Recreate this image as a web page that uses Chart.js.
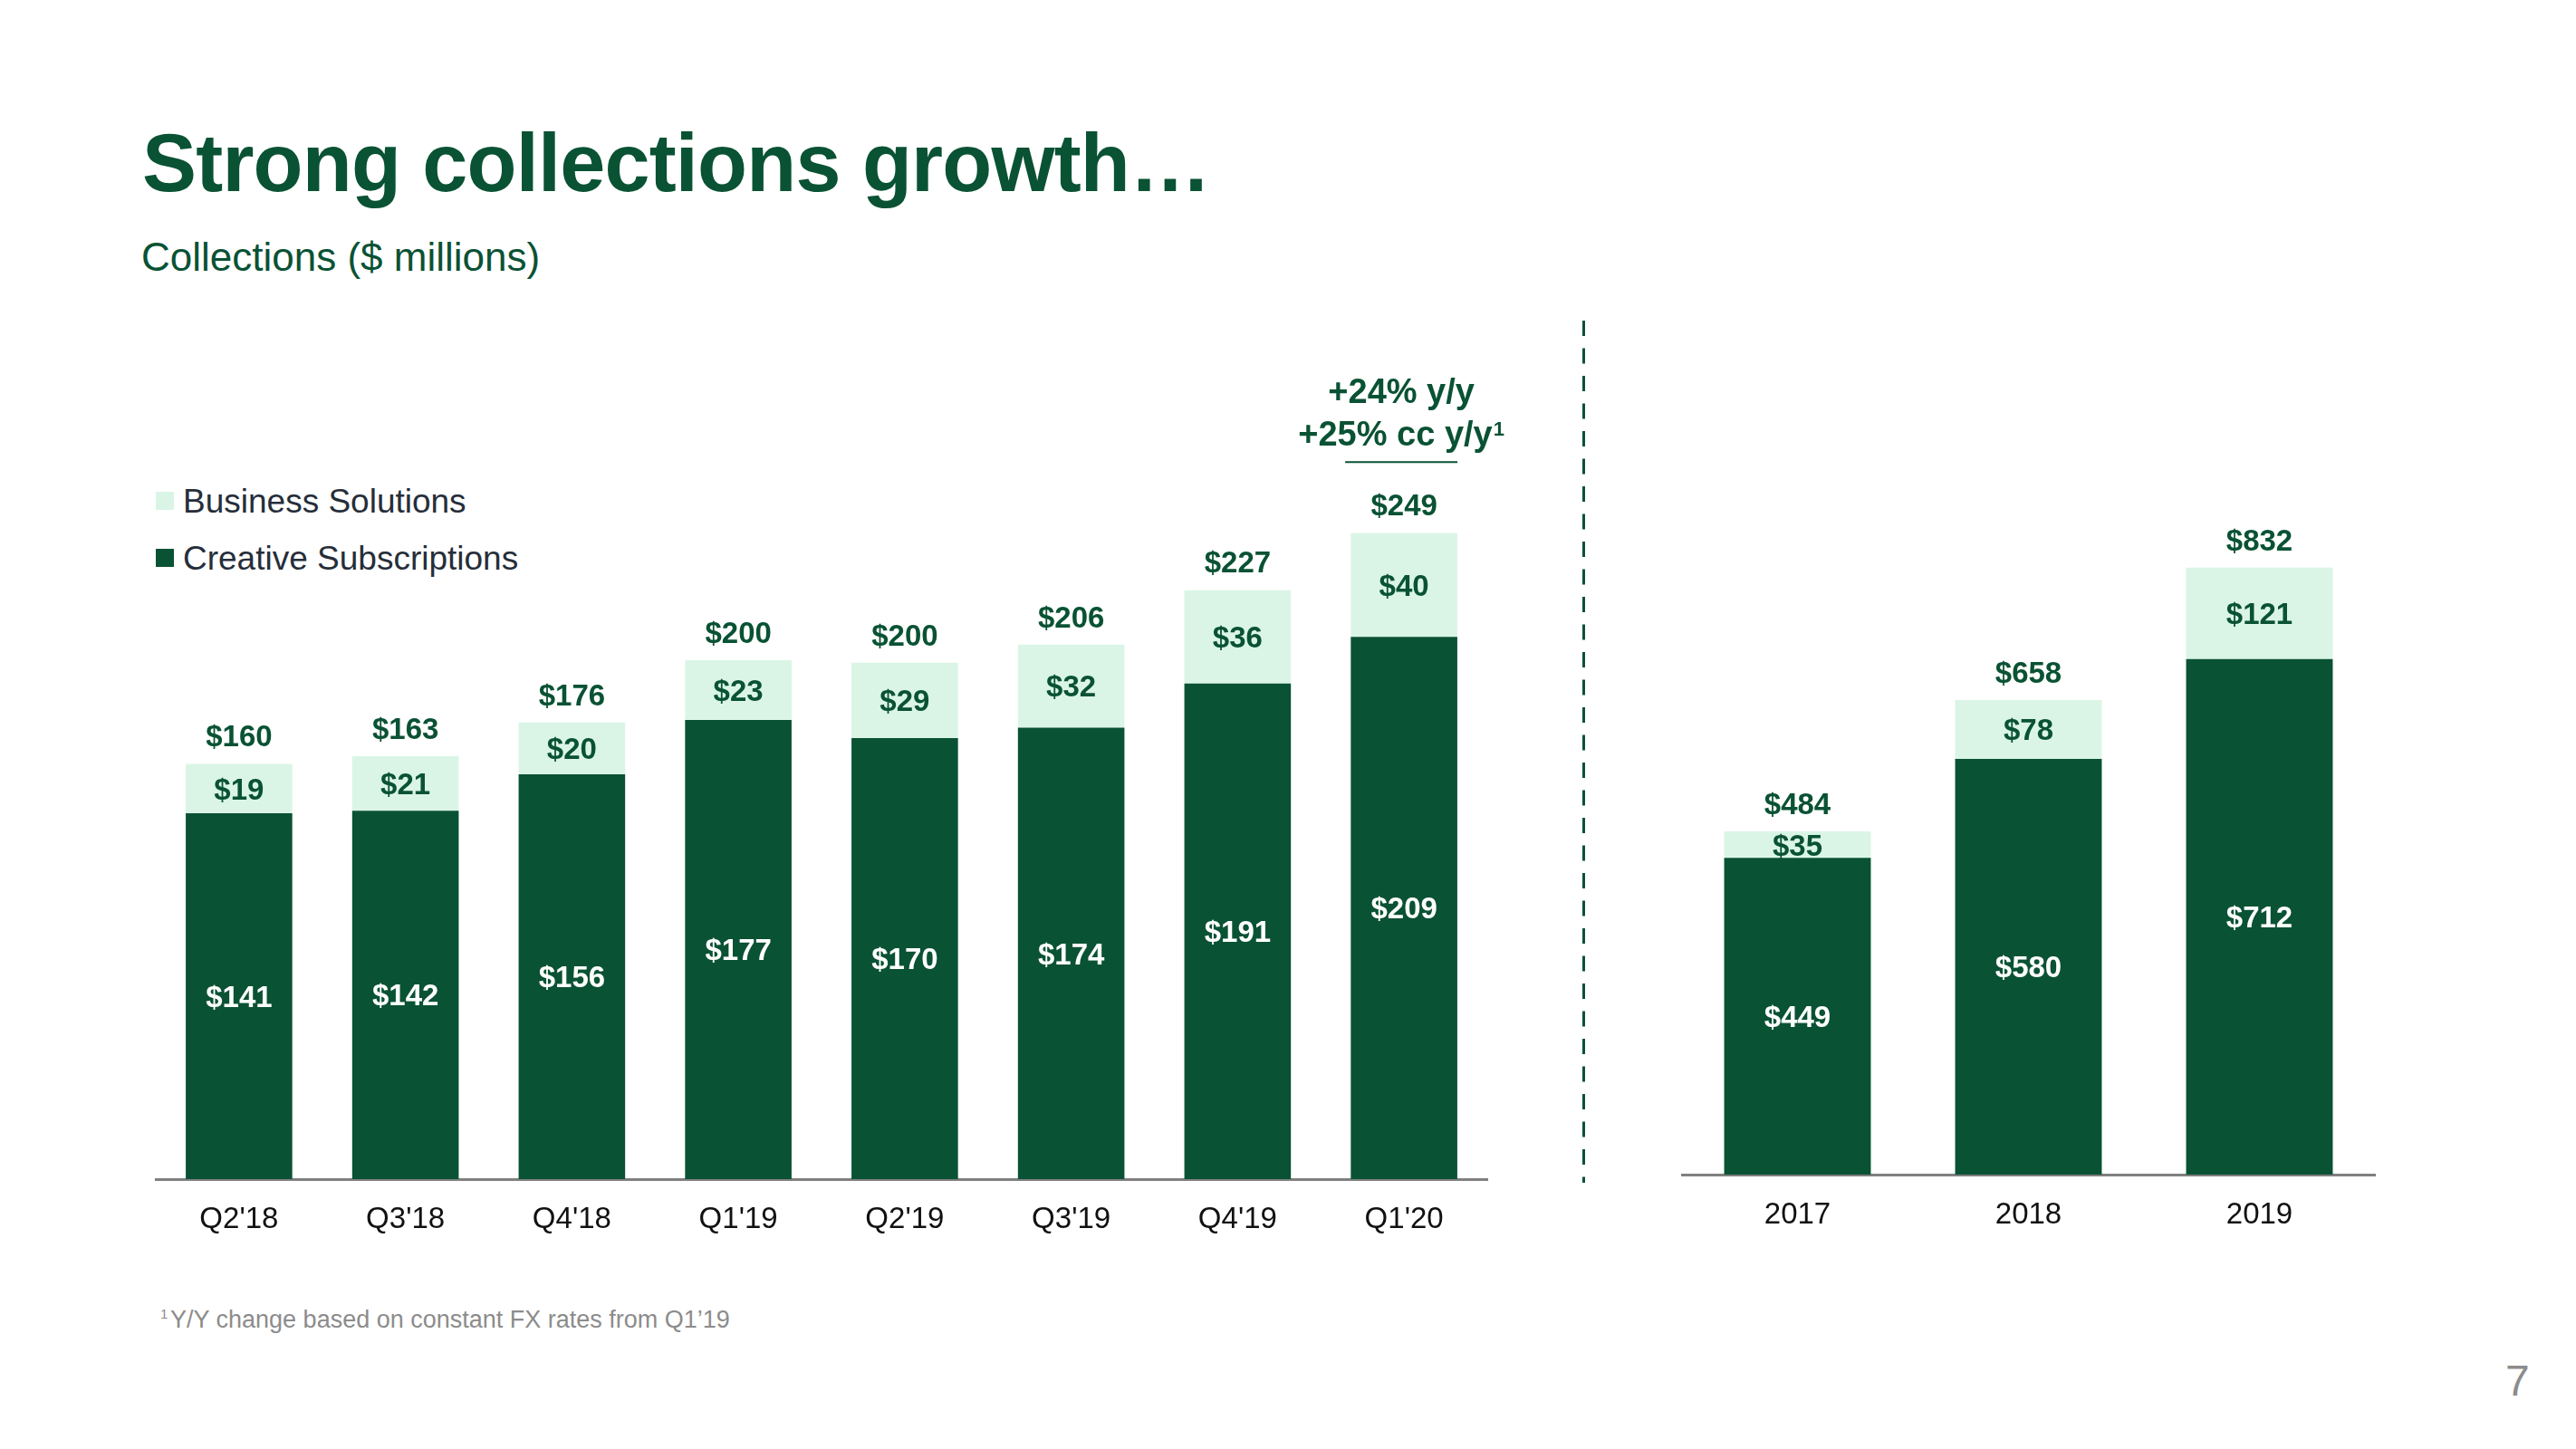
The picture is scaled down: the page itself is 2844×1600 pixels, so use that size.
<!DOCTYPE html>
<html>
<head>
<meta charset="utf-8">
<script src="https://cdn.jsdelivr.net/npm/chart.js@4.4.0/dist/chart.umd.min.js"></script>
<style>
html,body{margin:0;padding:0;background:#ffffff;}
body{width:2844px;height:1600px;position:relative;overflow:hidden;font-family:"Liberation Sans",Arial,Helvetica,sans-serif;}
.abs{position:absolute;white-space:nowrap;line-height:1;}
#title{left:157px;top:135px;font-size:90px;font-weight:bold;color:#0A5234;letter-spacing:-0.8px;}
#subtitle{left:156px;top:262px;font-size:44px;color:#0A5234;}
.legrow{position:absolute;left:172px;height:40px;}
.legsq{position:absolute;left:0;top:8px;width:20px;height:20px;}
.legtx{position:absolute;left:30px;top:0;font-size:37px;line-height:1;color:#262E3A;white-space:nowrap;}
#fnsup{left:177px;top:1443px;font-size:15px;color:#8C8C8C;}
#fn{left:188px;top:1444px;font-size:27px;color:#8C8C8C;}
#pageno{left:2766px;top:1501px;font-size:48px;color:#8C8C8C;}
canvas{position:absolute;}
#c1{left:150px;top:380px;}
#c2{left:1800px;top:420px;}
#sep{position:absolute;left:0;top:0;}
</style>
</head>
<body>
<div id="title" class="abs">Strong collections growth…</div>
<div id="subtitle" class="abs">Collections ($ millions)</div>
<div id="legend"></div>
<svg id="sep" width="2844" height="1600"><line x1="1748.5" y1="354" x2="1748.5" y2="1306" stroke="#0A5234" stroke-width="3" stroke-dasharray="17 13.5"/></svg>
<canvas id="c1" width="1530" height="1040"></canvas>
<canvas id="c2" width="900" height="1000"></canvas>
<div id="fnsup" class="abs">1</div>
<div id="fn" class="abs">Y/Y change based on constant FX rates from Q1’19</div>
<div id="pageno" class="abs">7</div>
<script>
// ---- data ----
const quarterLabels = ["Q2'18","Q3'18","Q4'18","Q1'19","Q2'19","Q3'19","Q4'19","Q1'20"];
const quarterCreative = [141,142,156,177,170,174,191,209];
const quarterBusiness = [19,21,20,23,29,32,36,40];
const quarterTotals = [160,163,176,200,200,206,227,249];
const yearLabels = ['2017','2018','2019'];
const yearCreative = [449,580,712];
const yearBusiness = [35,78,121];
const yearTotals = [484,658,832];
const seriesNames = ['Creative Subscriptions','Business Solutions'];
const growthNote = ['+24% y/y','+25% cc y/y'];
const growthNoteSup = '1';

// ---- styles ----
const GREEN = '#0A5234';
const MINT = '#DAF5E6';
const FAMILY = '"Liberation Sans", Arial, Helvetica, sans-serif';
Chart.defaults.font.family = FAMILY;

const segLabels = {
  id: 'segLabels',
  afterDatasetsDraw(chart, args, opts) {
    const ctx = chart.ctx, area = chart.chartArea;
    const m0 = chart.getDatasetMeta(0), m1 = chart.getDatasetMeta(1);
    const d0 = chart.data.datasets[0].data, d1 = chart.data.datasets[1].data;
    ctx.save();
    ctx.font = 'bold 33px ' + FAMILY;
    ctx.textAlign = 'center';
    ctx.textBaseline = 'alphabetic';
    const off = 0.358 * 33;
    m0.data.forEach((bar, i) => {
      const base = Math.min(bar.base, area.bottom);
      ctx.fillStyle = '#FFFFFF';
      ctx.fillText('$' + d0[i], bar.x, (bar.y + base) / 2 + off);
    });
    m1.data.forEach((bar, i) => {
      ctx.fillStyle = GREEN;
      ctx.fillText('$' + d1[i], bar.x, (bar.y + bar.base) / 2 + off);
      ctx.fillText('$' + opts.totals[i], bar.x, bar.y - 31 + off);
    });
    if (opts.note) {
      const bar = m1.data[m1.data.length - 1];
      const cx = bar.x - 3, lblC = bar.y - 31;
      const o2 = 0.358 * 38;
      ctx.fillStyle = GREEN;
      ctx.font = 'bold 38px ' + FAMILY;
      ctx.textAlign = 'center';
      ctx.fillText(opts.note[0], cx, lblC - 126 + o2);
      const w = ctx.measureText(opts.note[1]).width;
      ctx.font = 'bold 22px ' + FAMILY;
      const ws = ctx.measureText(opts.sup).width;
      const start = cx - (w + ws + 1) / 2;
      ctx.textAlign = 'left';
      ctx.font = 'bold 38px ' + FAMILY;
      ctx.fillText(opts.note[1], start, lblC - 79 + o2);
      ctx.font = 'bold 22px ' + FAMILY;
      ctx.fillText(opts.sup, start + w + 1, lblC - 79 + o2 - 11);
      ctx.strokeStyle = GREEN;
      ctx.lineWidth = 2;
      ctx.beginPath();
      ctx.moveTo(cx - 62, lblC - 47.3);
      ctx.lineTo(cx + 62, lblC - 47.3);
      ctx.stroke();
    }
    ctx.restore();
  }
};

function makeChart(id, labels, creative, business, totals, yMin, yMax, pad, barPct, extra) {
  return new Chart(document.getElementById(id), {
    type: 'bar',
    data: {
      labels: labels,
      datasets: [
        {label: seriesNames[0], data: creative, backgroundColor: GREEN, borderWidth: 0, barPercentage: barPct, categoryPercentage: 1},
        {label: seriesNames[1], data: business, backgroundColor: MINT, borderWidth: 0, barPercentage: barPct, categoryPercentage: 1}
      ]
    },
    options: {
      responsive: false,
      animation: false,
      events: [],
      layout: {padding: pad},
      plugins: {
        legend: {display: false},
        tooltip: {enabled: false},
        segLabels: Object.assign({totals: totals}, extra || {})
      },
      scales: {
        x: {
          stacked: true,
          grid: {display: false, drawTicks: false},
          border: {display: true, color: '#808080', width: 3},
          ticks: {color: '#111111', font: {size: 33, family: FAMILY}, padding: 25, maxRotation: 0, autoSkip: false}
        },
        y: {stacked: true, display: false, min: yMin, max: yMax}
      }
    },
    plugins: [segLabels]
  });
}

const chart1 = makeChart('c1', quarterLabels, quarterCreative, quarterBusiness, quarterTotals, 0, 300,
  {top: 62.5, bottom: 28.4, left: 22, right: 38}, 0.64, {note: growthNote, sup: growthNoteSup});
const chart2 = makeChart('c2', yearLabels, yearCreative, yearBusiness, yearTotals, 30, 1000,
  {top: 67.5, bottom: 33.4, left: 57, right: 78}, 0.635, null);

// legend from chart datasets (top: Business Solutions, bottom: Creative Subscriptions)
const legend = document.getElementById('legend');
const legTops = [535.4, 597.7];
chart1.data.datasets.slice().reverse().forEach((ds, i) => {
  const row = document.createElement('div');
  row.className = 'legrow';
  row.style.top = legTops[i] + 'px';
  const sq = document.createElement('div');
  sq.className = 'legsq';
  sq.style.background = ds.backgroundColor;
  const tx = document.createElement('div');
  tx.className = 'legtx';
  tx.textContent = ds.label;
  row.appendChild(sq); row.appendChild(tx);
  legend.appendChild(row);
});
</script>
</body>
</html>
